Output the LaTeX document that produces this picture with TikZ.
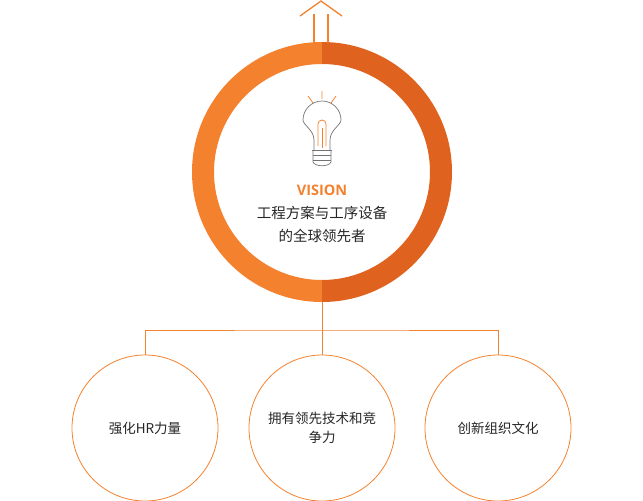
\documentclass[tikz,border=0pt]{standalone}
\usepackage{fontspec}
\setmainfont{Open Sans}
\newfontfamily\cjk{Noto Sans CJK SC}
\definecolor{orangeL}{HTML}{F3812E}
\definecolor{orangeR}{HTML}{E0621F}
\tikzset{
  goal/.style={circle,draw=orangeL,line width=0.8pt,minimum size=146pt,inner sep=0pt,align=center,font=\cjk\fontsize{13.5}{19}\selectfont,text=black!85},
  branch/.style={draw=orangeL,line width=0.8pt},
  bulb/.style={draw=black!55,line width=0.7pt}
}
\begin{document}
\begin{tikzpicture}[x=1pt,y=-1pt]
  \useasboundingbox (0,0) rectangle (643,501);
  % big ring
  \begin{scope}
    \clip (190,30) rectangle (322,310);
    \fill[orangeL,even odd rule] (322,172) circle[radius=130] (322,172) circle[radius=108];
  \end{scope}
  \begin{scope}
    \clip (322,30) rectangle (460,310);
    \fill[orangeR,even odd rule] (322,172) circle[radius=130] (322,172) circle[radius=108];
  \end{scope}
  % arrow on top
  \draw[orangeL,line width=1.3pt] (314,43) -- (314,14) (328,43) -- (328,14);
  \draw[orangeL,line width=1.3pt] (300,16) -- (321,1) -- (342,16);
  % bulb
  \draw[orangeL,line width=0.8pt] (322,91) -- (322,99) (308,96) -- (313,103) (336,96) -- (331,103);
  \draw[bulb] (314,150) -- (314,140) .. controls (314,130) and (303,125) .. (303,120)
    arc[start angle=180,end angle=360,radius=19] .. controls (341,125) and (330,130) .. (330,140) -- (330,150);
  \draw[bulb] (312,150) -- (332,150) (313,155) -- (331,155) (313,160) -- (331,160);
  \draw[bulb] (313,150) -- (313,162) .. controls (315,167) and (329,167) .. (331,162) -- (331,150);
  \draw[orangeL,line width=0.8pt] (318,146) -- (318,124) arc[start angle=180,end angle=360,radius=4] -- (326,146);
  \draw[orangeL,line width=0.8pt] (322,128) -- (322,148);
  \node (vision) at (322,190) {\fontsize{14.5}{16}\selectfont\bfseries\color{orangeL}VISION};
  \node[align=center,font=\cjk\fontsize{14.5}{23}\selectfont,text=black!85] (goal) at (322,224) {工程方案与工序设备\\的全球领先者};
  % branches
  \coordinate (stem) at (322,302);
  \coordinate (fork) at (322,330);
  \node[goal] (g1) at (145,428) {强化HR力量};
  \node[goal] (g2) at (322,428) {拥有领先技术和竞\\争力};
  \node[goal] (g3) at (498,428) {创新组织文化};
  \draw[branch] (stem) -- (fork);
  \draw[branch] (g1.north) |- (fork) -| (g3.north);
  \draw[branch] (fork) -- (g2.north);
\end{tikzpicture}
\end{document}
